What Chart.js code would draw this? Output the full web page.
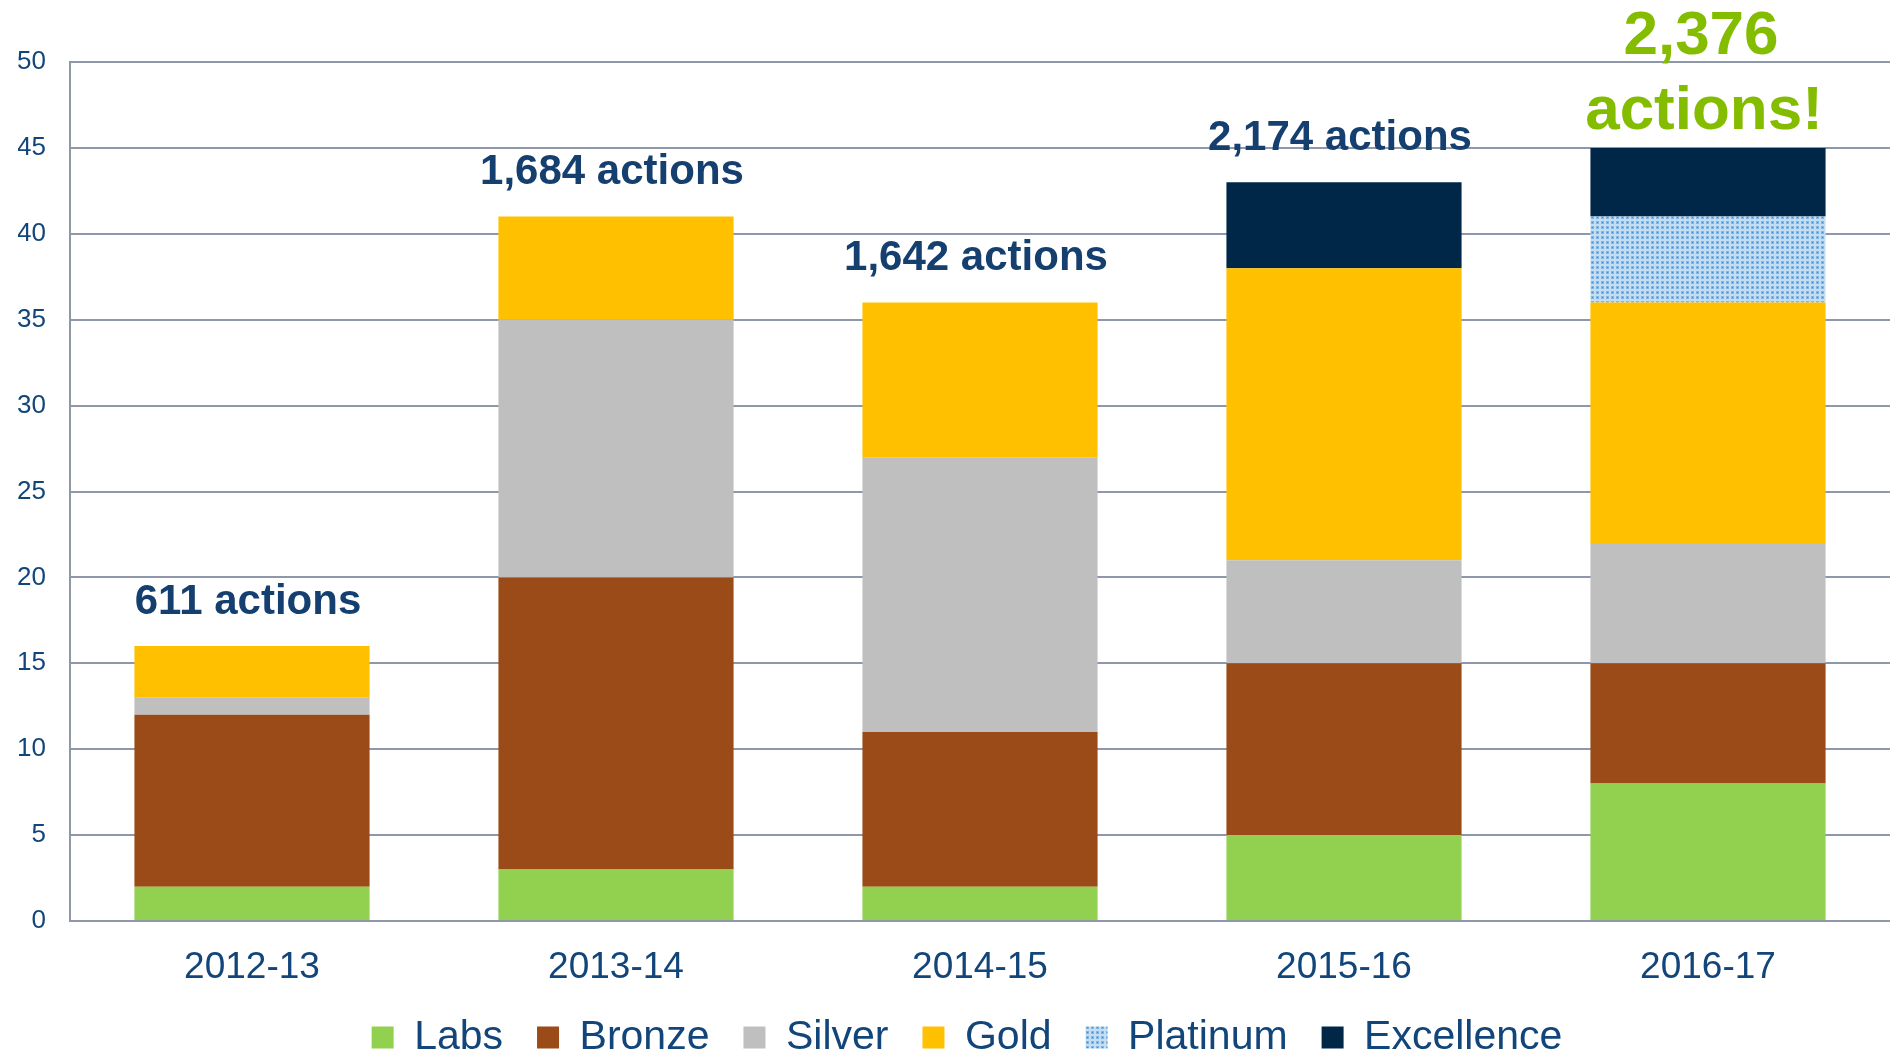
<!DOCTYPE html>
<html>
<head>
<meta charset="utf-8">
<script src="https://cdn.jsdelivr.net/npm/chart.js@4.4.1/dist/chart.umd.min.js"></script>
<style>
  html, body { margin: 0; padding: 0; background: #fff; }
  #wrap { width: 1890px; height: 1054px; }
</style>
</head>
<body>
<div id="wrap"><canvas id="actions-chart" width="1890" height="1054"></canvas></div>
<script>
const years = ['2012-13', '2013-14', '2014-15', '2015-16', '2016-17'];
const labs = [2, 3, 2, 5, 8];
const bronze = [10, 17, 9, 10, 7];
const silver = [1, 15, 16, 6, 7];
const gold = [3, 6, 9, 17, 14];
const platinum = [0, 0, 0, 0, 5];
const excellence = [0, 0, 0, 5, 4];
const actionLabels = [['611 actions'], ['1,684 actions'], ['1,642 actions'], ['2,174 actions'], ['2,376', 'actions!']];
const yTicks = [0, 5, 10, 15, 20, 25, 30, 35, 40, 45, 50];

const FONT = '"Liberation Sans", Arial, sans-serif';
const tickColor = '#12457a';
const gridColor = '#8f98aa';

// dotted light-blue fill for Platinum
function buildDotPattern() {
    const c = document.createElement('canvas');
    c.width = 5; c.height = 5;
    const p = c.getContext('2d');
    p.fillStyle = '#c4ddf1';
    p.fillRect(0, 0, 5, 5);
    p.fillStyle = '#80b6e6';
    p.fillRect(1, 1, 3, 3);
    p.fillStyle = '#3a8ddb';
    p.fillRect(2, 2, 1, 1);
    return p.createPattern(c, 'repeat');
}

// draws the "N actions" notes above each stack
const actionNotes = {
    id: 'actionNotes',
    afterDatasetsDraw(chart) {
        const { ctx, scales: { x, y } } = chart;
        ctx.save();
        ctx.textAlign = 'center';
        ctx.textBaseline = 'middle';
        actionLabels.forEach((lines, i) => {
            const total = chart.data.datasets.reduce((s, ds) => s + (ds.data[i] || 0), 0);
            const cx = x.getPixelForValue(i);
            const top = y.getPixelForValue(total);
            if (lines.length === 1) {
                ctx.fillStyle = '#153f6e';
                ctx.font = 'bold 42px ' + FONT;
                ctx.fillText(lines[0], cx - 4, top - 44);
            } else {
                ctx.fillStyle = '#84bd00';
                ctx.font = 'bold 62px ' + FONT;
                ctx.fillText(lines[1], cx - 4, top - 36);
                ctx.fillText(lines[0], cx - 7, top - 111);
            }
        });
        ctx.restore();
    }
};

// legend sits a bit lower and a bit right of Chart.js's default spot
const legendNudge = {
    id: 'legendNudge',
    beforeLayout(chart) {
        const lg = chart.legend;
        if (lg && !lg._nudged) {
            const fit = lg.fit;
            lg.fit = function () { fit.call(this); this.height -= 14; };
            lg._nudged = true;
        }
    },
    afterLayout(chart) {
        if (chart.legend) { chart.legend.left += 26; }
    }
};

const ctx = document.getElementById('actions-chart').getContext('2d');
const dots = buildDotPattern();

new Chart(ctx, {
    type: 'bar',
    data: {
        labels: years,
        datasets: [
            { label: 'Labs', data: labs, backgroundColor: '#92d050' },
            { label: 'Bronze', data: bronze, backgroundColor: '#9a4b17' },
            { label: 'Silver', data: silver, backgroundColor: '#bfbfbf' },
            { label: 'Gold', data: gold, backgroundColor: '#ffc000' },
            { label: 'Platinum', data: platinum, backgroundColor: dots },
            { label: 'Excellence', data: excellence, backgroundColor: '#002748' }
        ]
    },
    options: {
        responsive: false,
        animation: false,
        devicePixelRatio: 1,
        layout: { padding: { top: 62, left: 18, right: 0, bottom: 0 } },
        datasets: {
            bar: { barPercentage: 0.646, categoryPercentage: 1, borderWidth: 0 }
        },
        plugins: {
            tooltip: { enabled: false },
            legend: {
                position: 'bottom',
                labels: {
                    color: tickColor,
                    font: { family: FONT, size: 41 },
                    boxWidth: 22,
                    boxHeight: 22,
                    padding: 34
                }
            }
        },
        scales: {
            x: {
                stacked: true,
                afterFit(scale) { scale.height = 62; },
                grid: { display: false, drawTicks: false },
                border: { display: true, color: gridColor, width: 2 },
                ticks: { color: tickColor, font: { family: FONT, size: 37 }, padding: 25 }
            },
            y: {
                stacked: true,
                min: 0,
                max: 50,
                afterBuildTicks(scale) { scale.ticks = yTicks.map(v => ({ value: v })); },
                afterFit(scale) { scale.width = 52; },
                grid: { color: gridColor, lineWidth: 2, drawTicks: false },
                border: { display: true, color: gridColor, width: 2 },
                ticks: { color: tickColor, font: { family: FONT, size: 26 }, padding: 24 }
            }
        }
    },
    plugins: [actionNotes, legendNudge]
});
</script>
</body>
</html>
